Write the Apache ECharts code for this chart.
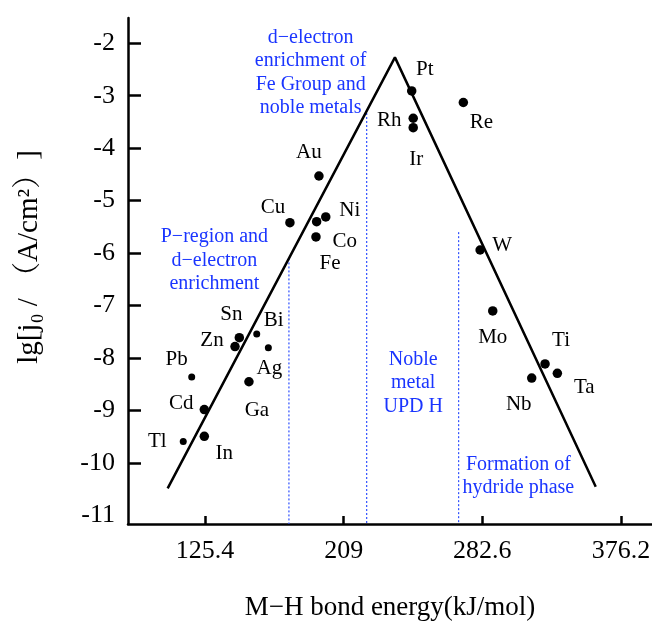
<!DOCTYPE html>
<html>
<head>
<meta charset="utf-8">
<script src="https://cdn.jsdelivr.net/npm/echarts@6/dist/echarts.min.js"></script>
<style>
  html, body { margin: 0; padding: 0; background: #fff; }
  #mychart { width: 652px; height: 628px; }
</style>
</head>
<body>
<div id="mychart"></div>
<script>
// tick labels of the bond energy axis (evenly spaced in the figure)
const xTicks = [125.4, 209, 282.6, 376.2]
const yLabels = [-11, -10, -9, -8, -7, -6, -5, -4, -3, -2]

// metals: M-H bond energy (kJ/mol) and lg j0
const metals = ['Au', 'Cu', 'Ni', 'Co', 'Fe', 'Pt', 'Re', 'Rh', 'Ir', 'W', 'Mo', 'Ti', 'Ta', 'Nb',
    'Sn', 'Zn', 'Bi', 'Ag', 'Ga', 'Pb', 'Cd', 'Tl', 'In']
const bondEnergy = [194.1, 176.6, 198.2, 192.7, 192.3, 245.1, 272.5, 245.9, 245.9, 281.4, 289.6, 324.9, 333.2, 315.9,
    146.1, 143.5, 156.6, 163.6, 151.9, 117.4, 125.0, 112.3, 125.0]
const lgJ0 = [-4.53, -5.42, -5.31, -5.40, -5.69, -2.91, -3.13, -3.43, -3.61, -5.94, -7.10, -8.11, -8.29, -8.38,
    -7.61, -7.78, -7.54, -7.80, -8.45, -8.36, -8.98, -9.59, -9.49]
const smallDots = ['Pb', 'Tl', 'Bi', 'Ag']

// volcano line
const volcanoE = [102.9, 236.2, 359.1]
const volcanoLg = [-10.48, -2.27, -10.45]

// region boundaries (dotted)
const boundaryE = [176.0, 221.2, 270.0]
const boundaryTop = [-6.10, -3.33, -5.6]

// region notes
const notes = ['d\u2212electron\nenrichment of\nFe Group and\nnoble metals',
    'P\u2212region and\nd\u2212electron\nenrichment',
    'Noble\nmetal\nUPD H',
    'Formation of\nhydride phase']
const noteE = [189.1, 131.1, 245.9, 306.9]
const noteLg = [-2.56, -6.14, -8.47, -10.25]

const yMin = -11.16
const serif = '"Liberation Serif", "Times New Roman", "Noto Serif CJK SC", "Noto Sans CJK SC", serif'
const blue = '#1a35ff'

// label placement around each dot
const labelOffset = {
    Au: [-10, -24], Cu: [-17, -15], Ni: [24, -6], Co: [28, 20], Fe: [14, 27],
    Pt: [13, -21], Re: [18, 20], Rh: [-24, 2], Ir: [3, 32], W: [22, -5],
    Mo: [0, 27], Ti: [16, -23], Ta: [27, 14], Nb: [-13, 26],
    Sn: [-8, -23], Zn: [-23, -6], Bi: [17, -14], Ag: [1, 21], Ga: [8, 29],
    Pb: [-15, -18], Cd: [-23, -6], Tl: [-26, 0], In: [20, 17]
}

// the figure puts its energy ticks at equal spacing, so map piecewise
function pos(e) {
    let i = e < xTicks[1] ? 0 : (e < xTicks[2] ? 1 : 2)
    return i + (e - xTicks[i]) / (xTicks[i + 1] - xTicks[i])
}

let myChart = echarts.init(document.getElementById('mychart'))

let dots = metals.map((m, i) => ({
    name: m,
    value: [pos(bondEnergy[i]), lgJ0[i]],
    symbolSize: smallDots.includes(m) ? 7 : 9.5,
    label: { offset: labelOffset[m] }
}))

let boundarySeries = boundaryE.map((e, i) => ({
    type: 'line',
    data: [[pos(e), boundaryTop[i]], [pos(e), yMin]],
    symbol: 'none',
    lineStyle: { color: '#2f50ff', width: 1.2, type: [2, 2] },
    z: 1,
    silent: true
}))

let option = {
    animation: false,
    backgroundColor: '#fff',
    grid: { left: 128, right: 0, top: 18, bottom: 104, outerBoundsMode: 'none' },
    xAxis: {
        type: 'value',
        min: -0.555,
        max: 3.223,
        name: 'M\u2212H bond energy(kJ/mol)',
        nameLocation: 'middle',
        nameGap: 84,
        nameTextStyle: { fontFamily: serif, fontSize: 27, color: '#000', verticalAlign: 'middle' },
        axisLine: { onZero: false, lineStyle: { color: '#000', width: 2.5 } },
        axisTick: { inside: true, length: 8, lineStyle: { color: '#000', width: 2.5 }, customValues: [0, 1, 2, 3] },
        axisLabel: {
            customValues: [0, 1, 2, 3],
            formatter: v => String(xTicks[Math.round(v)]),
            fontFamily: serif, fontSize: 26, color: '#000', margin: 14
        },
        splitLine: { show: false }
    },
    yAxis: {
        type: 'value',
        min: yMin,
        max: -1.52,
        name: 'lg[j\u2080 / \uff08A/cm\u00b2\uff09]',
        nameLocation: 'middle',
        nameGap: 99,
        nameTextStyle: { fontFamily: serif, fontSize: 29, color: '#000', verticalAlign: 'middle', padding: [0, 0, 0, 28] },
        axisLine: { onZero: false, lineStyle: { color: '#000', width: 2.5 } },
        axisTick: { inside: true, length: 13, lineStyle: { color: '#000', width: 2.5 }, customValues: yLabels.slice(1) },
        axisLabel: {
            customValues: yLabels,
            fontFamily: serif, fontSize: 26, color: '#000', margin: 13
        },
        splitLine: { show: false }
    },
    series: [
        {
            type: 'line',
            data: volcanoE.map((e, i) => [pos(e), volcanoLg[i]]),
            symbol: 'none',
            lineStyle: { color: '#000', width: 2.5 },
            z: 2,
            silent: true
        },
        ...boundarySeries,
        {
            type: 'scatter',
            data: dots,
            itemStyle: { color: '#000', opacity: 1 },
            label: {
                show: true,
                position: 'inside',
                formatter: '{b}',
                fontFamily: serif,
                fontSize: 21,
                color: '#000'
            },
            z: 3
        },
        {
            type: 'scatter',
            data: notes.map((t, i) => ({ name: t, value: [pos(noteE[i]), noteLg[i]] })),
            symbolSize: 0,
            itemStyle: { opacity: 1 },
            label: {
                show: true,
                position: 'inside',
                formatter: '{b}',
                fontFamily: serif,
                fontSize: 20,
                lineHeight: 23.5,
                color: blue,
                align: 'center'
            },
            z: 4,
            silent: true
        }
    ]
}
myChart.setOption(option)
</script>
</body>
</html>
